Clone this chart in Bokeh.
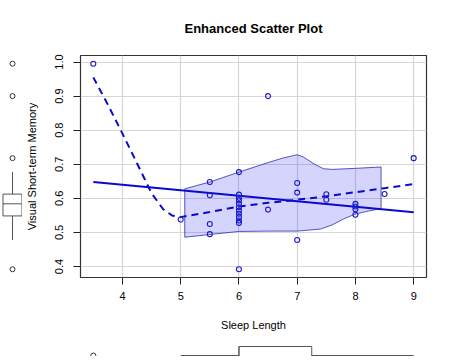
import math
from bokeh.plotting import figure
from bokeh.layouts import column, row
from bokeh.models import Range1d, FixedTicker
from bokeh.embed import file_html
from bokeh.resources import INLINE

# ---------------- data ----------------
sleep = [3.5, 5.0, 5.5, 5.5, 5.5, 5.5,
         6.0, 6.0, 6.0, 6.0, 6.0, 6.0, 6.0, 6.0, 6.0, 6.0, 6.0, 6.0,
         6.5, 6.5, 7.0, 7.0, 7.0, 7.5, 7.5,
         8.0, 8.0, 8.0, 8.0, 8.5, 9.0]
memory = [0.995, 0.538, 0.648, 0.609, 0.525, 0.495,
          0.677, 0.611, 0.602, 0.594, 0.584, 0.574, 0.564, 0.555, 0.545, 0.535, 0.528, 0.392,
          0.900, 0.567, 0.645, 0.617, 0.478, 0.612, 0.596,
          0.584, 0.576, 0.568, 0.552, 0.613, 0.718]

# linear fit (end points)
fit_x = [3.5, 9.0]
fit_y = [0.648, 0.559]

# loess smooth
smooth_x = [3.5, 3.75, 4.0, 4.25, 4.5, 4.7, 4.85, 5.0, 5.5, 6.0, 6.5, 7.0, 7.5, 8.0, 8.5, 9.0]
smooth_y = [0.955, 0.875, 0.79, 0.703, 0.615, 0.568, 0.550, 0.545, 0.560, 0.576, 0.587, 0.596, 0.606, 0.618, 0.630, 0.642]

# spread band
band_up_x = [5.07, 5.5, 6.0, 6.5, 6.75, 7.0, 7.1, 7.3, 7.45, 7.6, 8.0, 8.44]
band_up_y = [0.628, 0.648, 0.677, 0.705, 0.718, 0.728, 0.722, 0.700, 0.687, 0.685, 0.688, 0.692]
band_lo_x = [5.07, 5.5, 6.0, 6.5, 7.0, 7.4, 7.6, 7.8, 8.0, 8.2, 8.44]
band_lo_y = [0.486, 0.494, 0.503, 0.504, 0.504, 0.510, 0.522, 0.540, 0.554, 0.562, 0.570]

x_ticks = [4, 5, 6, 7, 8, 9]
y_ticks = [0.4, 0.5, 0.6, 0.7, 0.8, 0.9, 1.0]
y_tick_labels = ["0.4", "0.5", "0.6", "0.7", "0.8", "0.9", "1.0"]

title = "Enhanced Scatter Plot"
x_label = "Sleep Length"
y_label = "Visual Short-term Memory"

# ---------------- helpers ----------------
def fivenum(v):
    s = sorted(v)
    n = len(s)
    n4 = math.floor((n + 3) / 2) / 2
    d = [1, n4, (n + 1) / 2, n + 1 - n4, n]
    return [0.5 * (s[math.floor(di - 1)] + s[math.ceil(di - 1)]) for di in d]

def box_stats(v):
    f = fivenum(v)
    q1, med, q3 = f[1], f[2], f[3]
    iqr = q3 - q1
    lo_f, hi_f = q1 - 1.5 * iqr, q3 + 1.5 * iqr
    inside = [a for a in v if lo_f <= a <= hi_f]
    out = [a for a in v if a < lo_f or a > hi_f]
    return q1, med, q3, min(inside), max(inside), out

def pad(lo, hi):
    r = hi - lo
    return lo - 0.04 * r, hi + 0.04 * r

FONT = "Liberation Sans"
PT_COL = "#1a1acd"
LINE_COL = "#0a0ad0"
BOX_COL = "#555555"

xlo, xhi = pad(min(sleep), max(sleep))
ylo, yhi = pad(min(memory), max(memory))

LEFT_W = 22
AXIS_W = 80 - LEFT_W
MAIN_W = 447 - LEFT_W
FRAME_R = 426 - LEFT_W
TOP = 55
MAIN_H = 340
BOTTOM = MAIN_H - 277
BOT_H = 356 - MAIN_H

p = figure(width=MAIN_W, height=MAIN_H, x_range=Range1d(xlo, xhi), y_range=Range1d(ylo, yhi),
           output_backend="svg", toolbar_location=None,
           min_border_left=AXIS_W, min_border_right=MAIN_W - FRAME_R, min_border_top=TOP, min_border_bottom=BOTTOM,
           title=title)
p.title.align = "center"
p.title.text_font = FONT
p.title.text_font_size = "13px"
p.title.text_font_style = "bold"
p.title.text_color = "black"
p.title.standoff = 37
p.title.vertical_align = "middle"

for ax in (p.xaxis[0], p.yaxis[0]):
    ax.axis_line_color = None
    ax.major_tick_line_color = "#222222"
    ax.major_tick_out = 7
    ax.major_tick_in = 0
    ax.minor_tick_line_color = None
    ax.major_label_text_font = FONT
    ax.major_label_text_font_size = "11px"
    ax.major_label_text_color = "black"
    ax.axis_label_text_font = FONT
    ax.axis_label_text_font_size = "11px"
    ax.axis_label_text_font_style = "normal"
    ax.axis_label_text_color = "black"

p.xaxis.major_label_standoff = 7
p.xaxis.axis_label_standoff = 16
p.yaxis.major_label_standoff = 10
p.yaxis.axis_label_standoff = 15

p.xaxis.ticker = FixedTicker(ticks=x_ticks)
p.yaxis.ticker = FixedTicker(ticks=y_ticks)
p.yaxis.major_label_overrides = {t: l for t, l in zip(y_ticks, y_tick_labels)}
p.yaxis.major_label_orientation = "vertical"
p.xaxis.axis_label = x_label
p.yaxis.axis_label = y_label

p.xgrid.ticker = FixedTicker(ticks=x_ticks)
p.ygrid.ticker = FixedTicker(ticks=y_ticks)
p.grid.grid_line_color = "#d6d6d6"
p.grid.grid_line_width = 1.2
p.outline_line_color = "#333333"
p.outline_line_width = 1.2
p.background_fill_color = "white"
p.border_fill_color = "white"

# band
px = band_up_x + band_lo_x[::-1]
py = band_up_y + band_lo_y[::-1]
p.patch(px, py, fill_color="#0000ee", fill_alpha=0.17, line_color="#3a3ab8", line_width=1, line_alpha=0.85)

# lines
p.line(fit_x, fit_y, line_color=LINE_COL, line_width=2)
p.line(smooth_x, smooth_y, line_color=LINE_COL, line_width=2, line_dash="7 5")

# points
p.scatter(sleep, memory, marker="circle", size=5, fill_color=None, line_color=PT_COL, line_width=1.1)

# ---------------- left marginal boxplot (memory) ----------------
lf = figure(width=LEFT_W, height=MAIN_H, x_range=Range1d(-12 / LEFT_W, (LEFT_W - 12) / LEFT_W), y_range=p.y_range,
            output_backend="svg", toolbar_location=None,
            x_axis_location=None, y_axis_location=None,
            min_border_left=0, min_border_right=0, min_border_top=TOP, min_border_bottom=BOTTOM)
lf.grid.visible = False
lf.outline_line_color = None
q1, med, q3, wlo, whi, outs = box_stats(memory)
bw = 9.5 / LEFT_W
lf.quad(left=[-bw], right=[bw], bottom=[q1], top=[q3], fill_color=None, line_color=BOX_COL, line_width=1)
lf.segment(x0=[-bw], x1=[bw], y0=[med], y1=[med], line_color=BOX_COL, line_width=1)
lf.segment(x0=[0, 0], x1=[0, 0], y0=[q3, q1], y1=[whi, wlo], line_color=BOX_COL, line_width=1)
lf.scatter([0] * len(outs), outs, marker="circle", size=5, fill_color=None, line_color="#333333", line_width=1)

# ---------------- bottom marginal boxplot (sleep) ----------------
bf = figure(width=447, height=BOT_H, x_range=p.x_range, y_range=Range1d(-1 / BOT_H, 15 / BOT_H),
            output_backend="svg", toolbar_location=None,
            x_axis_location=None, y_axis_location=None,
            min_border_left=80, min_border_right=447 - 426, min_border_top=0, min_border_bottom=0)
bf.grid.visible = False
bf.outline_line_color = None
q1, med, q3, wlo, whi, outs = box_stats(sleep)
bh = 9 / BOT_H
bf.quad(left=[q1], right=[q3], bottom=[-bh], top=[bh], fill_color=None, line_color=BOX_COL, line_width=1)
bf.segment(x0=[med], x1=[med], y0=[-bh], y1=[bh], line_color=BOX_COL, line_width=1)
bf.segment(x0=[q3, q1], x1=[whi, wlo], y0=[0, 0], y1=[0, 0], line_color=BOX_COL, line_width=1)
bf.scatter(outs, [0] * len(outs), marker="circle", size=5, fill_color=None, line_color="#333333", line_width=1)

layout = column(row(lf, p, spacing=0), bf, spacing=0)
open("out.html", "w").write(file_html(layout, INLINE))
